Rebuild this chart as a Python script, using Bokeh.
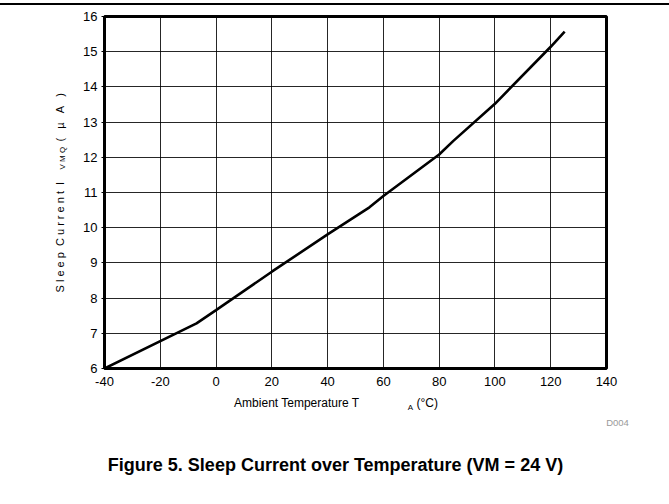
import math
from bokeh.plotting import figure
from bokeh.models import Label, Div, FixedTicker, ColumnDataSource, CustomJSTickFormatter
from bokeh.layouts import column
from bokeh.embed import file_html
from bokeh.resources import INLINE

# ---- data ----
temperature = [-40, -7, 0, 20, 40, 55, 60, 80, 85, 100, 120, 125]
sleep_current = [6.0, 7.28, 7.66, 8.75, 9.81, 10.58, 10.9, 12.08, 12.46, 13.52, 15.14, 15.57]
x_ticks = [-40, -20, 0, 20, 40, 60, 80, 100, 120, 140]
y_ticks = [6, 7, 8, 9, 10, 11, 12, 13, 14, 15, 16]

FONT = "Liberation Sans"
X0, X1, Y0, Y1 = -40, 140, 6, 16
FL, FR, FT, FB = 104, 606, 16, 368   # frame edges in page pixels
RULE_H = 5
H = 504 - RULE_H
NB = "\u00a0"

p = figure(width=669, height=H, x_range=(X0, X1), y_range=(Y0, Y1),
           output_backend="svg", toolbar_location=None,
           min_border_left=FL, min_border_right=669 - FR,
           min_border_top=FT - RULE_H, min_border_bottom=504 - FB,
           background_fill_color="white", border_fill_color="white")

src = ColumnDataSource(dict(t=temperature, i=sleep_current))
p.line("t", "i", source=src, line_color="black", line_width=2.6)

p.xaxis.ticker = FixedTicker(ticks=x_ticks)
p.yaxis.ticker = FixedTicker(ticks=y_ticks)
p.xgrid.ticker = FixedTicker(ticks=x_ticks)
p.ygrid.ticker = FixedTicker(ticks=y_ticks)
for g in (p.xgrid, p.ygrid):
    g.grid_line_color = "black"
    g.grid_line_width = 1
    g.grid_line_alpha = 0.85

fmt = CustomJSTickFormatter(code="return String(tick);")
for ax in (p.xaxis, p.yaxis):
    ax.formatter = fmt
    ax.axis_line_color = None
    ax.minor_tick_line_color = None
    ax.major_tick_in = 0
    ax.major_label_text_font = FONT
    ax.major_label_text_font_size = "13px"
    ax.major_label_text_color = "black"
p.xaxis.major_tick_out = 0
p.xaxis.major_label_standoff = 8
p.yaxis.major_tick_out = 3
p.yaxis.major_tick_line_color = "black"
p.yaxis.major_label_standoff = 4

p.outline_line_color = "black"
p.outline_line_width = 3
p.outline_line_alpha = 1


def dx(px):
    return X0 + (px - FL) * (X1 - X0) / (FR - FL)


def dy(py):
    return Y1 - (py - FT) * (Y1 - Y0) / (FB - FT)


def lab(text, px, py, size, side="below", align="left", color="black", style="normal",
        angle=0.0):
    # px, py: page pixel position (from top-left of the page), mapped through the scales
    p.add_layout(Label(x=dx(px), y=dy(py), text=text, text_font=FONT,
                       text_font_size=size, text_align=align, text_baseline="middle",
                       text_color=color, text_font_style=style, angle=angle), side)


def spaced(word, n=1):
    return (NB * n).join(word)


# x axis title
lab("Ambient Temperature T", 359, 402, "12px", align="right")
lab("A", 410, 407, "8px", align="center")
lab("(°C)", 416, 402, "12px")
lab("D004", 617, 422, "9.5px", align="center", color="#9a9a9a")

# caption
lab("Figure 5. Sleep Current over Temperature (VM = 24 V)", 335, 464, "18px",
    align="center", style="bold")

# y axis title (rotated, letter-spaced)
rot = math.pi / 2
y_title = spaced("Sleep") + NB * 2 + spaced("Current") + NB * 2 + "I"
lab(y_title, 59, 292, "11px", side="left", angle=rot)
lab(spaced("VMQ"), 62, 169, "8px", side="left", angle=rot)
lab(spaced("(µA)", 3), 59, 141, "11px", side="left", angle=rot)

rule = Div(text="", width=669, height=RULE_H, margin=(0, 0, 0, 0),
           styles={"border-bottom": "2px solid black", "box-sizing": "border-box"})
p.margin = (0, 0, 0, 0)

layout = column(rule, p, spacing=0, margin=(0, 0, 0, 0))
open("out.html", "w").write(file_html(layout, INLINE))
